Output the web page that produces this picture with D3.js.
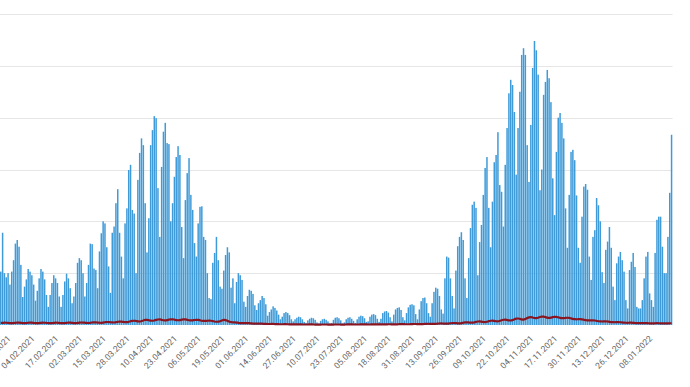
<!DOCTYPE html>
<html><head><meta charset="utf-8">
<script src="https://cdn.jsdelivr.net/npm/d3@7"></script>
<style>body{margin:0;background:#fff}svg{display:block}</style>
</head><body><svg id="c" width="690" height="387"></svg>
<script>
const startDate = "2021-01-19";
const cases = [
1030,1780,1000,920,1000,780,1030,1250,1570,1640,
1510,1160,540,740,880,1080,1030,960,780,470,
660,900,1080,1030,880,580,350,580,810,960,
900,810,550,350,580,840,990,900,710,420,
550,810,1200,1290,1250,1000,550,810,1160,1570,
1560,1090,1060,710,1420,1770,2000,1960,1500,1130,
620,1780,1900,2350,2620,1780,1320,900,1960,2250,
2990,3090,2220,2150,1000,2800,3320,3600,3470,2350,
1400,2060,3470,3760,4030,3990,2640,1700,3050,3730,
3900,3510,3490,2000,2350,2860,3240,3450,3280,1890,
1290,2410,2930,3220,2510,2220,1580,1320,1960,2280,
2290,1700,1640,1000,520,500,1200,1390,1700,1250,
740,700,1050,1350,1500,1400,720,900,420,830,
1000,960,870,450,350,560,680,660,600,380,
290,420,480,560,520,400,180,250,300,360,
330,280,200,110,160,230,250,230,190,110,
70,110,140,160,150,110,60,40,90,120,
140,130,100,50,30,80,110,120,100,70,
30,40,100,140,150,130,90,30,50,110,
140,150,120,80,40,110,160,180,170,130,
60,70,160,200,210,190,120,60,120,230,
260,270,240,150,70,200,300,330,340,290,
150,90,230,340,390,400,380,210,110,300,
460,520,530,420,230,160,420,640,720,700,
560,300,220,900,1320,1300,900,560,320,1050,
1520,1700,1790,1640,900,520,1290,1870,2320,2380,
2260,960,1600,1930,2510,3030,3240,2260,1500,2380,
3140,3280,3720,2700,2570,1900,3090,3800,4470,4730,
4630,4110,2900,3800,4500,5210,5340,5210,3470,2760,
3860,4960,5480,5300,4830,2600,3000,4440,4690,4920,
4760,4300,2830,2120,3340,4000,4090,3900,3600,2250,
1490,2510,3340,3380,3180,2500,1490,1200,2090,2670,
2720,2610,1320,870,1700,1830,2450,2310,2000,1020,
810,1450,1610,1890,1490,740,480,1190,1320,1410,
1250,1030,480,320,1060,1220,1390,1120,350,320,
320,480,900,1320,1410,610,480,350,1390,2030,
2090,2090,1510,1000,1000,1700,2550,3670
];
const deaths = [
40,42,44,43,40,36,35, 38,42,45,44,41,37,36, 39,43,45,44,40,36,35,
38,42,44,43,40,36,35, 37,41,44,43,40,37,36, 38,42,45,44,41,37,36,
40,45,48,47,44,40,39, 43,48,52,51,47,43,42,
47,53,58,57,53,49,48, 54,61,66,65,60,55,54,
62,72,80,82,77,70,68, 76,88,97,98,92,84,82,
88,99,106,107,100,92,89, 94,104,110,110,103,95,92,
95,104,108,107,100,92,88, 90,97,100,98,90,82,78,
78,82,84,82,75,67,63, 66,72,88,100,95,80,66,
55,52,50,47,42,38,36, 36,38,38,35,31,28,27,
27,28,27,25,22,20,19, 19,20,20,18,16,15,14,
14,15,15,14,13,12,11, 11,12,12,11,10,10,10,
10,11,11,10,9,9,9, 9,10,10,10,9,9,9,
9,10,10,10,9,9,9, 10,11,11,11,10,10,10,
10,11,12,12,11,10,10, 11,12,13,13,12,11,11,
12,13,14,14,13,12,12, 13,15,16,16,15,14,14,
15,17,19,19,18,17,16, 18,21,23,24,22,21,20,
22,26,29,30,28,26,25, 28,34,38,39,36,33,32,
36,44,50,52,49,45,44, 50,60,67,69,64,58,56,
62,74,82,84,79,72,70, 78,92,101,103,97,89,87,
95,110,122,125,118,108,105, 115,134,148,152,145,135,132,
140,155,162,161,152,142,138, 142,153,158,157,148,137,133,
132,138,140,137,128,118,113, 110,113,113,110,102,94,90,
88,90,90,87,80,73,70, 68,70,70,67,61,56,54,
53,55,55,53,49,45,43, 42,44,44,42,39,36,35,
35,37,38,37,35,33,32, 32,34,35,34,32,30,30,
31,33,34,34
];
const tickLabels = ["22.01.2021","04.02.2021","17.02.2021","02.03.2021","15.03.2021","28.03.2021","10.04.2021","23.04.2021","06.05.2021","19.05.2021","01.06.2021","14.06.2021","27.06.2021","10.07.2021","23.07.2021","05.08.2021","18.08.2021","31.08.2021","13.09.2021","26.09.2021","09.10.2021","22.10.2021","04.11.2021","17.11.2021","30.11.2021","13.12.2021","26.12.2021","08.01.2022"];
const yTicks = [1000,2000,3000,4000,5000,6000];

const fmt = d3.timeFormat("%d.%m.%Y");
const parse = d3.timeParse("%Y-%m-%d");
const start = parse(startDate);
const days = cases.map((_, i) => fmt(d3.timeDay.offset(start, i)));

const svg = d3.select("#c");
const x = d3.scaleBand().domain(days).range([-0.16, 672.5]).paddingInner(0.18).paddingOuter(0.1);
const y = d3.scaleLinear().domain([0, 6000]).range([325, 14]);
const cx = d => x(d) + x.bandwidth() / 2;

// grid
svg.append("g").selectAll("line").data(yTicks).join("line")
  .attr("x1", 0).attr("x2", 672.5)
  .attr("y1", d => Math.round(y(d)) + 0.5).attr("y2", d => Math.round(y(d)) + 0.5)
  .attr("stroke", "#e6e6e6").attr("stroke-width", 1);

// bars
svg.append("g").selectAll("rect").data(cases).join("rect")
  .attr("x", (d, i) => x(days[i]))
  .attr("width", x.bandwidth())
  .attr("y", d => y(d))
  .attr("height", d => y(0) - y(d))
  .attr("fill", "#3f9bd8");

// line
const line = d3.line().x((d, i) => cx(days[i])).y(d => y(d)).curve(d3.curveMonotoneX);
svg.append("path").datum(deaths).attr("d", line)
  .attr("fill", "none").attr("stroke", "#8a1520").attr("stroke-width", 2.2);

// x labels
const xa = d3.axisBottom(x).tickValues(tickLabels.filter(t => days.includes(t))).tickSize(0).tickPadding(0);
const gx = svg.append("g").attr("transform", "translate(0,325)").call(xa);
gx.select(".domain").remove();
gx.selectAll("text")
  .attr("font-family", "Roboto, sans-serif").attr("font-size", 8.5).attr("fill", "#666")
  .attr("text-anchor", "end")
  .attr("dy", "0")
  .attr("transform", "translate(5,14) rotate(-45)");
</script>
</body></html>
